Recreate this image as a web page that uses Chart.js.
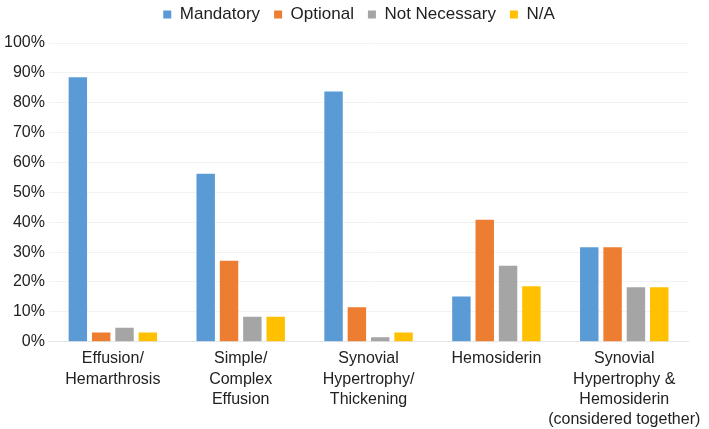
<!DOCTYPE html>
<html>
<head>
<meta charset="utf-8">
<script src="https://cdn.jsdelivr.net/npm/chart.js@4.4.1/dist/chart.umd.min.js"></script>
<style>
    html, body { margin: 0; padding: 0; background: #fff; }
    #wrap { width: 709px; height: 429px; }
</style>
</head>
<body>
<div id="wrap"><canvas id="myChart" width="709" height="429"></canvas></div>
<script>
const categories = [
    ['Effusion/', 'Hemarthrosis'],
    ['Simple/', 'Complex', 'Effusion'],
    ['Synovial', 'Hypertrophy/', 'Thickening'],
    'Hemosiderin',
    ['Synovial', 'Hypertrophy &', 'Hemosiderin', '(considered together)']
];

const mandatory = [88.5, 56.2, 83.8, 15.1, 31.6];
const optional = [3.1, 27.1, 11.5, 40.8, 31.6];
const notNecessary = [4.7, 8.4, 1.5, 25.4, 18.2];
const notApplicable = [3.1, 8.4, 3.1, 18.6, 18.2];

const seriesNames = ['Mandatory', 'Optional', 'Not Necessary', 'N/A'];
const seriesColors = ['#5B9BD5', '#ED7D31', '#A5A5A5', '#FFC000'];

const fontFamily = '"Liberation Sans", Arial, Helvetica, sans-serif';

// fixed legend height so the plot starts where the reference does,
// and nudge the legend row a little to the right
const legendGap = {
    id: 'legendGap',
    beforeInit(chart) {
        const fit = chart.legend.fit;
        chart.legend.fit = function () {
            fit.bind(chart.legend)();
            this.height = 51;
        };
    },
    afterLayout(chart) {
        chart.legend.left += 13;
        chart.legend.right += 13;
    }
};

const ctx = document.getElementById('myChart').getContext('2d');
new Chart(ctx, {
    type: 'bar',
    data: {
        labels: categories,
        datasets: [mandatory, optional, notNecessary, notApplicable].map((vals, i) => ({
            label: seriesNames[i],
            data: vals,
            backgroundColor: seriesColors[i],
            barPercentage: 0.79,
            categoryPercentage: 0.73
        }))
    },
    options: {
        responsive: false,
        animation: false,
        layout: { padding: { top: -8, right: 17, left: 0, bottom: -8 } },
        plugins: {
            legend: {
                position: 'top',
                labels: {
                    boxWidth: 8,
                    boxHeight: 8,
                    padding: 14,
                    color: '#222',
                    font: { family: fontFamily, size: 17 }
                }
            },
            tooltip: { enabled: false }
        },
        scales: {
            x: {
                grid: { display: false, drawTicks: false },
                border: { display: true, color: '#e6e6e6' },
                ticks: {
                    color: '#222',
                    padding: 7,
                    maxRotation: 0,
                    autoSkip: false,
                    font: { family: fontFamily, size: 16, lineHeight: 1.27 }
                }
            },
            y: {
                min: 0,
                max: 100,
                grid: { color: '#f2f2f2', drawTicks: false },
                border: { display: false },
                ticks: {
                    stepSize: 10,
                    padding: 4,
                    color: '#222',
                    font: { family: fontFamily, size: 16 },
                    callback: v => v + '%'
                }
            }
        }
    },
    plugins: [legendGap]
});
</script>
</body>
</html>
